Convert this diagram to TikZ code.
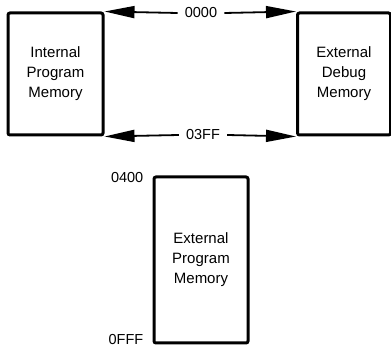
\documentclass[tikz,border=0pt]{standalone}
\usepackage{fontspec}
\setmainfont{Liberation Sans}
\usetikzlibrary{positioning, arrows.meta}

\tikzset{link/.style={line width=1.8pt, -{Triangle[length=30pt, width=12pt]}}}

\begin{document}
\begin{tikzpicture}[x=1pt, y=-1pt,
		mem/.style={rectangle, draw=black, line width=3pt, rounded corners=2pt, align=center, font=\fontsize{15}{20}\selectfont},
		addr/.style={font=\fontsize{14.5}{16}\selectfont, inner sep=7pt}]
		\useasboundingbox (0,0) rectangle (391,347);
		
		\node[mem, minimum width=95pt, minimum height=122pt] (IntProg) at (55.5,74)
		{Internal \\ Program \\ Memory};
		
		\node[mem, minimum width=93pt, minimum height=122pt] (ExtDebug) at (344,74)
		{External \\ Debug \\ Memory};
		
		\node[mem, minimum width=94pt, minimum height=166pt] (ExtProg) at (201,260)
		{External \\ Program \\ Memory};
		
		\node[addr] (AddrLo) at (201,13) {0000};
		\node[addr] (AddrHi) at (203,135) {03FF};
		\node[addr, left=2pt of ExtProg.north west, yshift=-2pt] (ExtLo) {0400};
		\node[addr, left=2pt of ExtProg.south west, yshift=5pt] (ExtHi) {0FFF};
		
		\draw[link] (AddrLo.west) -- (IntProg.north east);
		\draw[link] (AddrLo.east) -- (ExtDebug.north west);
		\draw[link] (AddrHi.west) -- (IntProg.south east);
		\draw[link] (AddrHi.east) -- (ExtDebug.south west);
		
	\end{tikzpicture}
\end{document}
